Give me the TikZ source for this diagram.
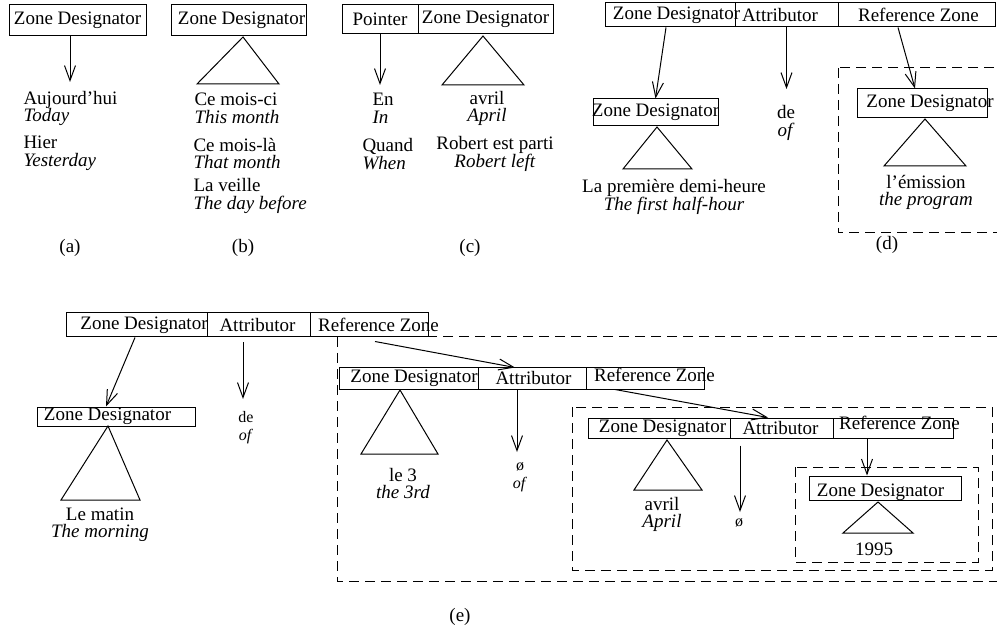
\documentclass[tikz,border=0pt]{standalone}
\usepackage{fontspec}
\setmainfont{Liberation Serif}
\usetikzlibrary{arrows.meta}

\tikzset{
	zone/.style={draw, inner sep=0pt, minimum height=24pt},
	gloss/.style={align=center, inner sep=0pt},
	smallgloss/.style={gloss, font=\fontsize{16}{18}\selectfont},
	group/.style={dash pattern=on 10pt off 6pt},
}

\begin{document}
\begin{tikzpicture}[x=1pt, y=-1pt, line width=1pt, >={Straight Barb[length=15pt,width=11pt]}, font=\fontsize{19}{17.5}\selectfont]
	\useasboundingbox (0,0) rectangle (997,631);

	\node[zone, minimum width=137pt, minimum height=31pt, label=center:Zone Designator] (za) at (77.5,20.5) {};
	\coordinate (ea) at (70,82);
	\draw[->] ([xshift=-7.5pt]za.south) -- (ea);
	\node[gloss, align=left, anchor=west] (ga1) at (23,108.5) {Aujourd'hui\\\textit{Today}};
	\node[gloss, align=left, anchor=west] (ga2) at (23,153.5) {Hier\\\textit{Yesterday}};
	\node (la) at (70,248) {(a)};

	\node[zone, minimum width=135pt, minimum height=31pt, label={[xshift=3pt]center:Zone Designator}] (zb) at (238.5,20.5) {};
	\draw (243,37) -- (279,84) -- (197,84) -- cycle;
	\node[gloss, align=left, anchor=west] (gb1) at (194,108.5) {Ce mois-ci\\\textit{This month}};
	\node[gloss, align=left, anchor=west] (gb2) at (193,153.5) {Ce mois-là\\\textit{That month}};
	\node[gloss, align=left, anchor=west] (gb3) at (193,196) {La veille\\\textit{The day before}};
	\node (lb) at (243,248) {(b)};

	\node[zone, minimum width=76pt, minimum height=29pt, label=center:Pointer] (pc) at (380,19.5) {};
	\node[zone, minimum width=135pt, minimum height=29pt, label=center:Zone Designator] (zc) at (485.5,19.5) {};
	\coordinate (ec) at (380,85);
	\draw[->] (pc.south) -- (ec);
	\draw (483,36) -- (524,85) -- (442,85) -- cycle;
	\node[gloss, align=left, anchor=west] (gc1) at (372,108.5) {En\\\textit{In}};
	\node[gloss, align=left, anchor=west] (gc2) at (362,154) {Quand\\\textit{When}};
	\node[gloss] (gc3) at (487,108.5) {avril\\\textit{April}};
	\node[gloss] (gc4) at (495,154) {Robert est parti\\\textit{Robert left}};
	\node (lc) at (470,248) {(c)};

	\node[zone, minimum width=130pt, label={[xshift=6.5pt]center:Zone Designator}] (zd1) at (670,15) {};
	\node[zone, minimum width=103pt, label={[xshift=-6.5pt]center:Attributor}] (ad1) at (786.5,15) {};
	\node[zone, minimum width=157pt, label={[xshift=2pt]center:Reference Zone}] (rd1) at (916.5,15) {};
	\draw[group] (838,68) rectangle (999,233);
	\node[zone, minimum width=125pt, minimum height=27pt, label=center:Zone Designator] (zd2) at (655.5,112.5) {};
	\draw[->] ([xshift=-4pt]zd1.south) -- (zd2.north);
	\draw (657,127) -- (692,169) -- (623,169) -- cycle;
	\node[gloss] (gd1) at (674,197) {La première demi-heure\\\textit{The first half-hour}};
	\coordinate (ed) at (786.5,89);
	\draw[->] (ad1.south) -- (ed);
	\node[gloss] (gd2) at (786,123) {de\\\textit{of}};
	\node[zone, minimum width=130pt, minimum height=29pt, label={[xshift=8pt]center:Zone Designator}] (zd3) at (922,103.5) {};
	\draw[->] ([xshift=-18.5pt]rd1.south) -- ([xshift=-7pt]zd3.north);
	\draw (925,119) -- (966,166) -- (884,166) -- cycle;
	\node[gloss] (gd3) at (926,192.5) {l'émission\\\textit{the program}};
	\node (ld) at (887,245) {(d)};

	\node[zone, minimum width=141pt, label={[xshift=7.5pt]center:Zone Designator}] (ze1) at (136.5,325) {};
	\node[zone, minimum width=103pt, label={[xshift=-1pt]center:Attributor}] (ae1) at (258.5,325) {};
	\node[zone, minimum width=118pt, label={[xshift=9.5pt]center:Reference Zone}] (re1) at (369,325) {};
	\node[zone, minimum width=158pt, minimum height=19pt, label={[xshift=-8.5pt]center:Zone Designator}] (ze2) at (116,416.5) {};
	\draw[->] ([xshift=-1.5pt]ze1.south) -- ([xshift=-10pt]ze2.north);
	\draw (108,426) -- (140,500) -- (61,500) -- cycle;
	\node[gloss] (ge1) at (100,524.5) {Le matin\\\textit{The morning}};
	\coordinate (ee1) at (243,399);
	\draw[->] ([xshift=-15.5pt,yshift=-5pt]ae1.south) -- (ee1);
	\node[smallgloss] (ge2) at (246,428) {de\\\textit{of}};

	\draw[group] (337,337) rectangle (999,581);
	\node[zone, minimum width=139pt, minimum height=21pt, label={[xshift=5.5pt]center:Zone Designator}] (ze3) at (408.5,378.5) {};
	\node[zone, minimum width=108pt, minimum height=21pt, label={[xshift=1.5pt]center:Attributor}] (ae3) at (532,378.5) {};
	\node[zone, minimum width=118pt, minimum height=21pt, label={[xshift=9.5pt,yshift=4pt]center:Reference Zone}] (re3) at (645,378.5) {};
	\draw[->] ([xshift=6pt,yshift=-4pt]re1.south) -- ([xshift=-17pt]ae3.north);
	\draw (400,390) -- (438,454) -- (361,454) -- cycle;
	\node[gloss] (ge3) at (403,483.5) {le 3\\\textit{the 3rd}};
	\coordinate (ee3) at (517,452);
	\draw[->] ([xshift=-15pt]ae3.south) -- (ee3);
	\node[smallgloss] (ge4) at (520,477.5) {ø\\\textit{of}};

	\draw[group] (572,407) rectangle (992,570);
	\node[zone, minimum width=142pt, minimum height=20pt, label={[xshift=3.5pt]center:Zone Designator}] (ze4) at (659,428) {};
	\node[zone, minimum width=103pt, minimum height=20pt, label={[xshift=-1pt]center:Attributor}] (ae4) at (781.5,428) {};
	\node[zone, minimum width=120pt, minimum height=20pt, label={[xshift=6.5pt,yshift=5pt]center:Reference Zone}] (re4) at (893,428) {};
	\draw[->] ([xshift=-30pt]re3.south) -- ([xshift=-13.5pt]ae4.north);
	\draw (667,440) -- (702,490) -- (634,490) -- cycle;
	\node[gloss] (ge5) at (662,514.5) {avril\\\textit{April}};
	\coordinate (ee4) at (740,512);
	\draw[->] ([xshift=-41.5pt,yshift=-7pt]ae4.south) -- (ee4);
	\node[smallgloss] (ge6) at (739,523) {ø};

	\draw[group] (795,467) rectangle (978,562);
	\node[zone, minimum width=152pt, label={[xshift=-4.5pt,yshift=-4pt]center:Zone Designator}] (ze5) at (885,488) {};
	\draw[->] ([xshift=-26pt]re4.south) -- ([xshift=-18pt]ze5.north);
	\draw (878,502) -- (913,533) -- (843,533) -- cycle;
	\node[gloss] (ge7) at (874,549) {1995};
	\node (le) at (460,617) {(e)};
\end{tikzpicture}
\end{document}
